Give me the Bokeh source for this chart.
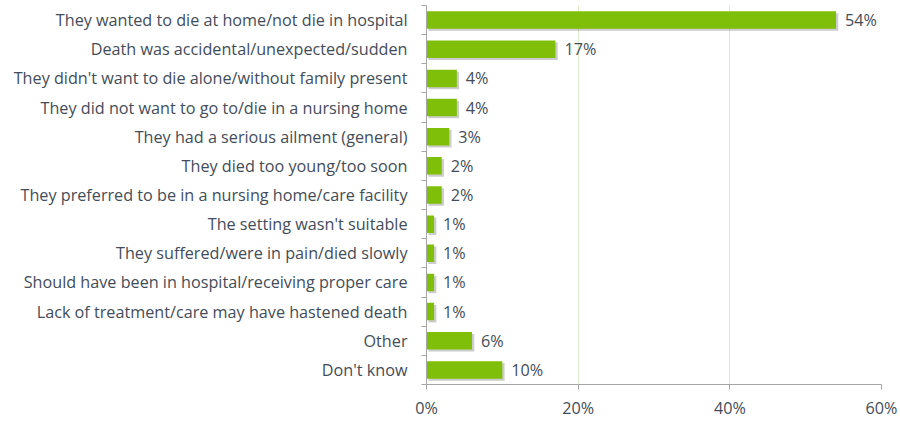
from bokeh.plotting import figure
from bokeh.models import ColumnDataSource, FixedTicker, Range1d, NumeralTickFormatter
from bokeh.transform import dodge
from bokeh.core.properties import value
from bokeh.embed import file_html
from bokeh.resources import INLINE

categories = [
    "They wanted to die at home/not die in hospital",
    "Death was accidental/unexpected/sudden",
    "They didn't want to die alone/without family present",
    "They did not want to go to/die in a nursing home",
    "They had a serious ailment (general)",
    "They died too young/too soon",
    "They preferred to be in a nursing home/care facility",
    "The setting wasn't suitable",
    "They suffered/were in pain/died slowly",
    "Should have been in hospital/receiving proper care",
    "Lack of treatment/care may have hastened death",
    "Other",
    "Don't know",
]
values = [54, 17, 4, 4, 3, 2, 2, 1, 1, 1, 1, 6, 10]
x_ticks = [0, 20, 40, 60]

n = len(categories)
ypos = [n - 1 - i for i in range(n)]
labels = [f"{v}%" for v in values]

source = ColumnDataSource(dict(y=ypos, v=values, lab=labels))

FONT = "Open Sans"
TXT = "#434d59"
FS = "16.2px"

p = figure(width=900, height=421, output_backend="svg", toolbar_location=None,
           x_range=Range1d(0, 60), y_range=Range1d(-0.5, n - 0.5),
           min_border_left=426, min_border_right=19, min_border_top=5, min_border_bottom=37)
p.outline_line_color = None
p.background_fill_color = "white"

# shadow
p.hbar(y=dodge("y", -0.07), left=0.25, right=dodge("v", 0.3), height=0.6, source=source,
       fill_color="#000000", fill_alpha=0.2, line_color=None)
p.hbar(y="y", left=0, right="v", height=0.6, source=source,
       fill_color="#7fbf0a", line_color=None)

p.text(x="v", y="y", text="lab", source=source, x_offset=9,
       text_font=value(FONT), text_font_size=FS, text_color=TXT,
       text_baseline="middle", text_align="left")

# x axis
p.xaxis.ticker = FixedTicker(ticks=x_ticks)
p.xaxis.formatter = NumeralTickFormatter(format="0")
p.xaxis.major_label_overrides = {t: f"{t}%" for t in x_ticks}
p.xaxis.axis_line_color = "#a6a6a6"
p.xaxis.major_tick_line_color = "#a6a6a6"
p.xaxis.major_tick_in = 0
p.xaxis.major_tick_out = 5
p.xaxis.minor_tick_line_color = None
p.xaxis.major_label_text_font = FONT
p.xaxis.major_label_text_font_size = FS
p.xaxis.major_label_text_color = TXT
p.xaxis.major_label_standoff = 7

# y axis
boundaries = [i - 0.5 for i in range(n + 1)]
p.yaxis.ticker = FixedTicker(ticks=ypos, minor_ticks=boundaries)
p.yaxis.major_label_overrides = {y: c for y, c in zip(ypos, categories)}
p.yaxis.axis_line_color = "#a6a6a6"
p.yaxis.major_tick_line_color = None
p.yaxis.major_tick_in = 0
p.yaxis.major_tick_out = 0
p.yaxis.minor_tick_line_color = "#a6a6a6"
p.yaxis.minor_tick_in = 0
p.yaxis.minor_tick_out = 5
p.yaxis.major_label_text_font = FONT
p.yaxis.major_label_text_font_size = FS
p.yaxis.major_label_text_color = TXT
p.yaxis.major_label_standoff = 14

p.ygrid.grid_line_color = None
p.xgrid.grid_line_color = "#dcebc8"
p.xgrid.grid_line_width = 1

open("out.html", "w").write(file_html(p, INLINE))
